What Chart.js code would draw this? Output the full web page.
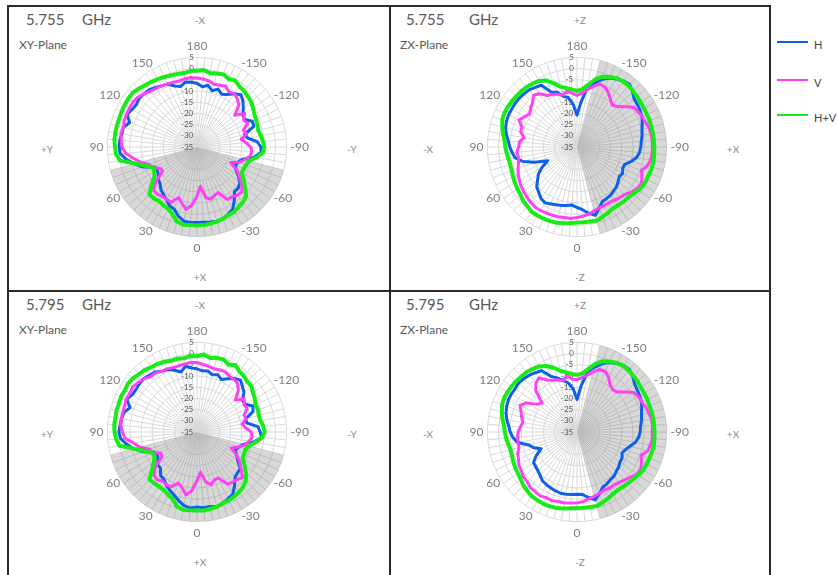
<!DOCTYPE html>
<html><head><meta charset="utf-8">
<script src="https://cdn.jsdelivr.net/npm/chart.js@4.4.0/dist/chart.umd.min.js"></script>
<style>
html,body{margin:0;padding:0;background:#fff;}
#page{position:relative;width:837px;height:575px;overflow:hidden;font-family:Lato,'Open Sans',sans-serif;background:#fff;}
.ln{position:absolute;background:#2b2b2b;}
.t{position:absolute;white-space:nowrap;line-height:1;transform:translateY(-50%);}
.c{position:absolute;white-space:nowrap;line-height:1;transform:translate(-50%,-50%);color:#8a8a8a;font-size:10px;}
.ttl{font-size:15px;color:#595959;}
.pl{font-size:12px;color:#595959;}
.lg{position:absolute;height:2px;width:31px;left:777px;}
.lt{position:absolute;left:814px;font-size:11px;color:#404040;transform:translateY(-50%);line-height:1;}
canvas{position:absolute;}
</style></head><body>
<div id="page">
  <div class="ln" style="left:7px;top:5px;width:764px;height:2px"></div>
  <div class="ln" style="left:7px;top:290px;width:764px;height:2px"></div>
  <div class="ln" style="left:7px;top:5px;width:2px;height:572px"></div>
  <div class="ln" style="left:389px;top:5px;width:2px;height:572px"></div>
  <div class="ln" style="left:769px;top:5px;width:2px;height:572px"></div>

  <div class="t ttl" style="left:26px;top:19px">5.755</div>
  <div class="t ttl" style="left:82px;top:19px">GHz</div>
  <div class="t pl" style="left:19px;top:45px">XY-Plane</div>
  <div class="c" style="left:200px;top:20px">-X</div>
  <div class="c" style="left:47px;top:149px">+Y</div>
  <div class="c" style="left:352px;top:149px">-Y</div>
  <div class="c" style="left:200px;top:277px">+X</div>

  <div class="t ttl" style="left:406px;top:19px">5.755</div>
  <div class="t ttl" style="left:469px;top:19px">GHz</div>
  <div class="t pl" style="left:400px;top:45px">ZX-Plane</div>
  <div class="c" style="left:580px;top:20px">+Z</div>
  <div class="c" style="left:428px;top:149px">-X</div>
  <div class="c" style="left:733px;top:149px">+X</div>
  <div class="c" style="left:580px;top:277px">-Z</div>

  <div class="t ttl" style="left:26px;top:304px">5.795</div>
  <div class="t ttl" style="left:82px;top:304px">GHz</div>
  <div class="t pl" style="left:19px;top:330px">XY-Plane</div>
  <div class="c" style="left:200px;top:305px">-X</div>
  <div class="c" style="left:47px;top:434px">+Y</div>
  <div class="c" style="left:352px;top:434px">-Y</div>
  <div class="c" style="left:200px;top:562px">+X</div>

  <div class="t ttl" style="left:406px;top:304px">5.795</div>
  <div class="t ttl" style="left:469px;top:304px">GHz</div>
  <div class="t pl" style="left:400px;top:330px">ZX-Plane</div>
  <div class="c" style="left:580px;top:305px">+Z</div>
  <div class="c" style="left:428px;top:434px">-X</div>
  <div class="c" style="left:733px;top:434px">+X</div>
  <div class="c" style="left:580px;top:562px">-Z</div>

  <div class="lg" id="lgH" style="top:41px"></div><div class="lt" style="top:44px">H</div>
  <div class="lg" id="lgV" style="top:79px"></div><div class="lt" style="top:82px">V</div>
  <div class="lg" id="lgHV" style="top:114px"></div><div class="lt" style="top:117px">H+V</div>

  <canvas id="c1" width="224" height="224" style="left:88px;top:36px"></canvas>
  <canvas id="c2" width="224" height="224" style="left:468px;top:36px"></canvas>
  <canvas id="c3" width="224" height="224" style="left:88px;top:321px"></canvas>
  <canvas id="c4" width="224" height="224" style="left:468px;top:321px"></canvas>
</div>
<script>
// Angle categories (degrees), clockwise from the top of each polar plot
const angleLabels = [180,-175,-170,-165,-160,-155,-150,-145,-140,-135,-130,-125,
  -120,-115,-110,-105,-100,-95,-90,-85,-80,-75,-70,-65,
  -60,-55,-50,-45,-40,-35,-30,-25,-20,-15,-10,-5,
  0,5,10,15,20,25,30,35,40,45,50,55,
  60,65,70,75,80,85,90,95,100,105,110,115,
  120,125,130,135,140,145,150,155,160,165,170,175];
const radialTicks = [5,0,-5,-10,-15,-20,-25,-30,-35];

// 5.755 GHz XY-Plane (dB)
const xy5755_H = [-6.5,-8,-7,-9,-7.5,-9,-8,-6,-4.5,-6,-8,-10,
  -10.5,-7.8,-8,-13,-12,-8,-6.5,-6.3,-9,-14,-15.5,-16,
  -15,-12.5,-10,-9,-9,-6,-3,-2,-1,-0.7,-1,-1.3,
  -1.3,-1.2,-1.4,-3,-5.4,-6,-7.8,-9,-10,-11.7,-12.5,-14,
  -14.3,-14,-9,-6,-3,-0.6,-0.3,-0.4,-1,-1,-3,-0.6,
  -1.5,-2,-1.3,-1.5,-1.7,-2.5,-3.5,-4,-6,-7,-5.5,-6];
const xy5755_V = [-4.2,-4.5,-5,-6,-5.7,-5,-6.5,-6,-7,-8.6,-13,-9,
  -11,-10,-13,-12,-15,-13,-11,-10.5,-11,-13,-15,-18.5,
  -14.3,-12,-9,-6.6,-7,-7.8,-8,-12.6,-12,-11,-12,-17.4,
  -13,-9,-6.7,-9,-11,-7.8,-8,-8,-7.5,-7.6,-11,-16.3,
  -16,-13,-12.3,-9,-6.1,-3,-1.5,-1,-0.6,-1,-0.5,-0.3,
  -0.2,-0.1,-0.5,-1.5,-2.6,-3,-3.5,-4,-4.2,-4.5,-4,-4];
const xy5755_HV = [-1,-0.5,-1.5,-1,-0.5,-1.5,-0.8,-2,-2.3,-3,-3.5,-4.5,
  -5.5,-6,-6.3,-6.7,-6,-5.5,-5,-5.5,-8,-11,-11.7,-12,
  -12,-9.5,-7,-4,-3,-2.5,-1.6,-1.5,-1,-0.5,-0.3,0,
  0,0,0.2,-0.5,-3,-4.5,-5,-5.5,-5,-5,-8.5,-11.8,
  -13,-13.3,-10.5,-6.5,0,1.3,1.6,2,2,2,2,2.2,
  2.3,2.5,2.5,1.8,1,0.5,0,-0.5,-1,-1.3,-1.5,-1];

// 5.755 GHz ZX-Plane (dB)
const zx5755_H = [-20.8,-15,-8,-5.5,-3,-1,0,1,1.5,0,-1.7,-2,
  -2.5,-3,-4,-5,-5.5,-6.2,-6.5,-7,-8,-10,-12.3,-12.5,
  -11.5,-12,-11,-10,-9.5,-8.8,-8.5,-8.2,-6,-3.4,-5,-6.9,
  -8,-9,-8.5,-8,-7.6,-7,-6.3,-7,-8.5,-9.6,-12,-14,
  -17,-20.6,-15,-10,-7,-6,-5,-4.2,-3,-2,-1.5,-1.3,
  -1.3,-1.2,-1.2,-1.5,-1.7,-2.5,-3.2,-8,-9,-11.6,-12.6,-16];
const zx5755_V = [-12,-11,-9,-7,-5.1,-5.5,-7,-9,-10.5,-9.5,-7,-4,
  -3.5,-3,-2.5,-1.7,-1.5,-1.3,-1.3,-1.4,-1.6,-2.5,-4.4,-3,
  -1.9,-2.5,-3.5,-5,-5.4,-6,-6.3,-6.2,-6,-5.5,-4.5,-4,
  -3.5,-3,-3,-2.8,-2.6,-2.5,-2.3,-2.3,-2.8,-3.4,-4,-4.5,
  -5.3,-6,-7,-8,-8.5,-8,-9,-9.2,-11,-9,-8.8,-6.4,
  -8,-9.2,-8,-7,-4.8,-6,-8.5,-9,-10,-11,-9.5,-11];
const zx5755_HV = [-10,-9.2,-6.9,-3.8,-1.6,-0.5,0.5,0.8,0.8,0.3,0,-0.3,
  -0.5,-0.6,-0.5,-0.6,-0.6,-0.6,-0.5,-0.4,-0.3,-0.3,-0.5,-0.7,
  -0.9,-1.5,-2.5,-2.9,-3,-3.2,-3.2,-2.5,-1.8,-1,-1.2,-1.3,
  -1.3,-1,-0.5,0,0.2,0.3,0.3,0.3,-0.5,-1,-2,-2.5,
  -3,-3.5,-4,-4.2,-4,-3.5,-3,-2.6,-1.5,-0.5,0.5,0.8,
  0.7,0.5,0.3,0.2,0,-0.5,-1,-2.2,-4.8,-7.2,-8.3,-9.2];

// 5.795 GHz XY-Plane (dB)
const xy5795_H = [-6.8,-7.6,-7.3,-8.6,-7.8,-9.2,-7.6,-5.8,-4.8,-6.3,-7.6,-10.3,
  -10.2,-7.5,-8.4,-12.6,-12.3,-7.7,-6.8,-6.1,-9.3,-13.6,-15.2,-16.3,
  -14.6,-12.8,-9.7,-9.3,-8.6,-5.8,-3,-2.2,-1.2,-0.5,-1.2,-1.1,
  -1.5,-1,-1.6,-3.3,-5.1,-6.3,-7.5,-9.3,-9.7,-12,-12.2,-13.7,
  -14.6,-13.8,-9.3,-5.8,-3.2,-0.8,-0.1,-0.6,-0.8,-1.3,-3.2,-0.4,
  -1.7,-1.8,-1.5,-1.3,-1.9,-2.3,-3.7,-4.2,-5.7,-7.3,-5.2,-6.3];
const xy5795_V = [-4,-4.7,-5.2,-5.8,-5.5,-5.3,-6.2,-6.3,-6.8,-8.9,-12.7,-9.3,
  -10.7,-10.3,-12.6,-12.4,-14.6,-13.3,-10.8,-10.2,-11.4,-12.7,-15.3,-18.2,
  -14.6,-11.7,-9.3,-6.3,-7.3,-7.5,-8.3,-12.3,-12.3,-10.7,-12.4,-17,
  -13.3,-8.7,-6.5,-9.3,-10.7,-8.1,-7.7,-8.3,-7.2,-7.9,-10.7,-16,
  -16.3,-12.7,-12.6,-8.7,-6.4,-2.8,-1.7,-0.8,-0.8,-0.8,-0.7,-0.1,
  -0.4,0.1,-0.7,-1.3,-2.8,-2.8,-3.7,-3.8,-4.4,-4.3,-4.2,-3.8];
const xy5795_HV = [-1.2,-0.3,-1.5,-0.8,-0.5,-1.8,-0.6,-2,-2.5,-3.2,-3.3,-4.5,
  -5.2,-6.2,-6,-6.5,-6.2,-5.3,-4.8,-5.8,-8.5,-11,-12,-11.8,
  -11.5,-9,-6.5,-4.2,-3,-2.3,-1.8,-1.3,-1.2,-0.4,-0.2,0.2,
  0,0.1,0.3,-0.6,-3.2,-4.2,-5.2,-5.3,-5.2,-5,-8.8,-11.5,
  -13.2,-13,-10.2,-6,0.2,1.2,1.8,2.1,1.9,2.2,2.1,2.4,
  2.2,2.6,2.3,1.6,1.2,0.4,0.1,-0.4,-1.2,-1.1,-1.6,-0.9];

// 5.795 GHz ZX-Plane (dB)
const zx5795_H = [-20.5,-14.5,-7.6,-5.2,-2.6,-0.8,0.3,1.2,1.4,0.2,-1.5,-2.2,
  -2.7,-3.2,-4.3,-5.2,-5.8,-6.5,-6.8,-7.4,-8.5,-10.5,-12,-12.8,
  -11.8,-11.6,-10.7,-10.2,-9.3,-9,-8.3,-7.8,-5.7,-3.6,-5.3,-7,
  -7.2,-7,-6.8,-6.7,-7,-7.4,-7.8,-8.3,-9.5,-10.4,-11,-11.3,
  -14,-17.3,-14.5,-12.7,-8,-6.3,-5.2,-4.4,-3.2,-2.2,-1.6,-1.2,
  -1.1,-1.3,-1,-1.4,-1.9,-2.7,-3.4,-7.6,-9.3,-11.2,-12.8,-15.6];
const zx5795_V = [-11.6,-10.6,-9.3,-7.2,-5.3,-5.2,-6.8,-9.2,-10.3,-9.7,-7.3,-4.2,
  -3.3,-3.2,-2.3,-1.9,-1.3,-1.1,-1.5,-1.2,-1.8,-2.3,-4.6,-3.2,
  -2.1,-2.3,-3.7,-4.8,-5.6,-6.2,-6,-6.4,-5.8,-5.3,-4.7,-3.8,
  -3.3,-3.2,-2.8,-2.9,-2.4,-2.7,-2.1,-2.5,-2.6,-3.6,-3.8,-4.7,
  -5.1,-6.2,-6.8,-8.2,-8.3,-8.4,-8.7,-9.6,-10.5,-9.4,-8.4,-7,
  -9,-13.5,-14.6,-9,-6.5,-5.5,-8.2,-9.5,-10.2,-11.3,-9.2,-11.4];
const zx5795_HV = [-9.5,-8.8,-6.5,-3.5,-1.4,-0.3,0.6,1,0.9,0.5,0.2,-0.2,
  -0.4,-0.4,-0.6,-0.5,-0.4,-0.5,-0.4,-0.3,-0.2,-0.4,-0.6,-0.8,
  -1,-1.6,-2.3,-2.7,-3.1,-3.3,-3,-2.3,-1.6,-0.8,-1,-1.1,
  -1.1,-0.8,-0.3,0.1,0.3,0.4,0.2,0.1,-0.6,-1.2,-2.2,-2.8,
  -3.2,-3.6,-4.1,-4.3,-3.8,-3.3,-2.8,-2.3,-1.2,-0.3,0.6,0.9,
  0.8,0.6,0.4,0.1,-0.1,-0.6,-1.2,-2.5,-4.5,-6.8,-8,-9];

// Shaded (unmeasured) sectors: 5 = shaded to the rim, -35 = none
const xyShade = [-35,-35,-35,-35,-35,-35,-35,-35,-35,-35,-35,-35,
  -35,-35,-35,-35,-35,-35,-35,-35,-35,5,5,5,
  5,5,5,5,5,5,5,5,5,5,5,5,
  5,5,5,5,5,5,5,5,5,5,5,5,
  5,5,5,5,-35,-35,-35,-35,-35,-35,-35,-35,
  -35,-35,-35,-35,-35,-35,-35,-35,-35,-35,-35,-35];
const zxShade = [-35,-35,-35,5,5,5,5,5,5,5,5,5,
  5,5,5,5,5,5,5,5,5,5,5,5,
  5,5,5,5,5,5,5,5,5,5,-35,-35,
  -35,-35,-35,-35,-35,-35,-35,-35,-35,-35,-35,-35,
  -35,-35,-35,-35,-35,-35,-35,-35,-35,-35,-35,-35,
  -35,-35,-35,-35,-35,-35,-35,-35,-35,-35,-35,-35];

const BLUE = '#0d5fec', PINK = '#ff40f6', GREEN = '#18ec18';
const FONT = "Lato, 'Open Sans', sans-serif";
document.getElementById('lgH').style.background = BLUE;
document.getElementById('lgV').style.background = PINK;
document.getElementById('lgHV').style.background = GREEN;

Chart.defaults.font.family = FONT;

function makeChart(id, H, V, HV, shade) {
  return new Chart(document.getElementById(id), {
    type: 'radar',
    data: {
      labels: angleLabels,
      datasets: [
        {label: 'H+V', data: HV, borderColor: GREEN, borderWidth: 4, fill: false, order: 0},
        {label: 'V', data: V, borderColor: PINK, borderWidth: 3, fill: false, order: 1},
        {label: 'H', data: H, borderColor: BLUE, borderWidth: 3, fill: false, order: 2},
        {label: 'shade', data: shade, borderColor: 'rgba(0,0,0,0)', borderWidth: 0,
         backgroundColor: 'rgba(110,110,110,0.27)', fill: 'start', order: 3}
      ]
    },
    options: {
      responsive: false, animation: false, devicePixelRatio: 1,
      events: [],
      elements: {
        point: {radius: 0, hoverRadius: 0},
        line: {tension: 0, borderJoinStyle: 'round', borderCapStyle: 'round'}
      },
      plugins: {legend: {display: false}, tooltip: {enabled: false}},
      scales: {
        r: {
          min: -35, max: 5, startAngle: 0,
          afterBuildTicks: (s) => { s.ticks = radialTicks.slice().reverse().map(v => ({value: v})); },
          ticks: {
            stepSize: 5, showLabelBackdrop: false, color: '#595959',
            font: {size: 8, family: FONT},
            callback: (v) => String(v) + '\u2007'.repeat(String(v).length) + '\u2003'
          },
          grid: {circular: true, color: '#d9d9d9', lineWidth: 1},
          angleLines: {color: '#d9d9d9', lineWidth: 1},
          pointLabels: {
            color: '#7f7f7f', font: {size: 12, family: FONT},
            padding: (ctx) => (ctx.index % 18 === 0 ? -2 : -7),
            callback: (l) => (Number(l) % 30 === 0 ? String(l) : '')
          }
        }
      }
    }
  });
}

makeChart('c1', xy5755_H, xy5755_V, xy5755_HV, xyShade);
makeChart('c2', zx5755_H, zx5755_V, zx5755_HV, zxShade);
makeChart('c3', xy5795_H, xy5795_V, xy5795_HV, xyShade);
makeChart('c4', zx5795_H, zx5795_V, zx5795_HV, zxShade);
</script>
</body></html>
